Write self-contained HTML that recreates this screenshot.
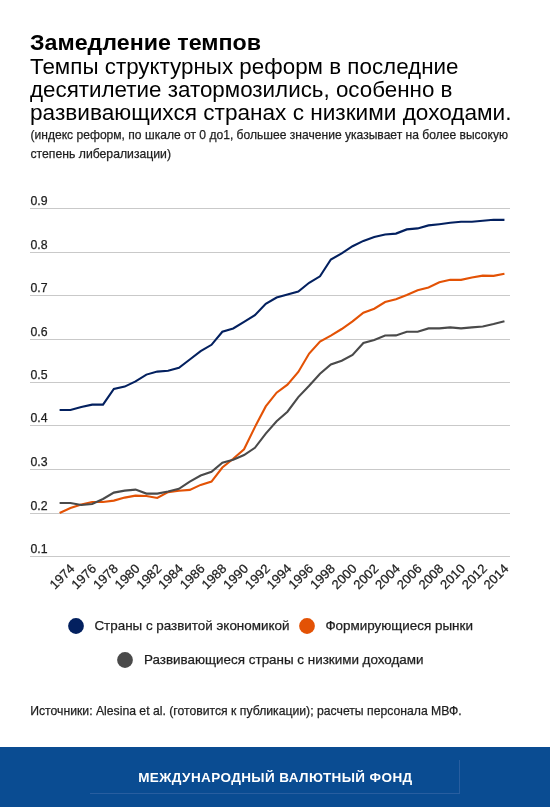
<!DOCTYPE html>
<html><head><meta charset="utf-8"><style>
html,body{margin:0;padding:0;background:#fff;width:550px;height:807px;overflow:hidden;position:relative}
svg text{font-family:"Liberation Sans", sans-serif}
svg{will-change:transform}
.t{fill:#1e1e1e;stroke:#1e1e1e;stroke-width:0.25px}
</style></head><body>
<svg width="550" height="807" viewBox="0 0 550 807" style="position:absolute;left:0;top:0">
<text x="30" y="50.4" font-size="22.5" font-weight="bold" fill="#000" textLength="231" lengthAdjust="spacingAndGlyphs">Замедление темпов</text>
<text x="30" y="74.1" font-size="22" fill="#000" textLength="428.5" lengthAdjust="spacingAndGlyphs">Темпы структурных реформ в последние</text>
<text x="30" y="97.2" font-size="22" fill="#000" textLength="422.5" lengthAdjust="spacingAndGlyphs">десятилетие затормозились, особенно в</text>
<text x="30" y="119.8" font-size="22" fill="#000" textLength="481.5" lengthAdjust="spacingAndGlyphs">развивающихся странах с низкими доходами.</text>
<text x="30.5" y="138.5" font-size="12.4" class="t" textLength="477.5" lengthAdjust="spacingAndGlyphs">(индекс реформ, по шкале от 0 до1, большее значение указывает на более высокую</text>
<text x="30.5" y="158.3" font-size="12.4" class="t" textLength="140.5" lengthAdjust="spacingAndGlyphs">степень либерализации)</text>
<rect x="30" y="208" width="480" height="1" fill="#c9c9c9"/>
<text x="30.5" y="204.9" font-size="12.3" class="t">0.9</text>
<rect x="30" y="252" width="480" height="1" fill="#c9c9c9"/>
<text x="30.5" y="248.9" font-size="12.3" class="t">0.8</text>
<rect x="30" y="295" width="480" height="1" fill="#c9c9c9"/>
<text x="30.5" y="291.9" font-size="12.3" class="t">0.7</text>
<rect x="30" y="339" width="480" height="1" fill="#c9c9c9"/>
<text x="30.5" y="335.9" font-size="12.3" class="t">0.6</text>
<rect x="30" y="382" width="480" height="1" fill="#c9c9c9"/>
<text x="30.5" y="378.9" font-size="12.3" class="t">0.5</text>
<rect x="30" y="425" width="480" height="1" fill="#c9c9c9"/>
<text x="30.5" y="421.9" font-size="12.3" class="t">0.4</text>
<rect x="30" y="469" width="480" height="1" fill="#c9c9c9"/>
<text x="30.5" y="465.9" font-size="12.3" class="t">0.3</text>
<rect x="30" y="513" width="480" height="1" fill="#c9c9c9"/>
<text x="30.5" y="509.9" font-size="12.3" class="t">0.2</text>
<rect x="30" y="556" width="480" height="1" fill="#c9c9c9"/>
<text x="30.5" y="552.9" font-size="12.3" class="t">0.1</text>
<text transform="translate(75.45,569.50) rotate(-45)" text-anchor="end" font-size="13" class="t">1974</text>
<text transform="translate(97.15,569.50) rotate(-45)" text-anchor="end" font-size="13" class="t">1976</text>
<text transform="translate(118.85,569.50) rotate(-45)" text-anchor="end" font-size="13" class="t">1978</text>
<text transform="translate(140.55,569.50) rotate(-45)" text-anchor="end" font-size="13" class="t">1980</text>
<text transform="translate(162.25,569.50) rotate(-45)" text-anchor="end" font-size="13" class="t">1982</text>
<text transform="translate(183.95,569.50) rotate(-45)" text-anchor="end" font-size="13" class="t">1984</text>
<text transform="translate(205.65,569.50) rotate(-45)" text-anchor="end" font-size="13" class="t">1986</text>
<text transform="translate(227.35,569.50) rotate(-45)" text-anchor="end" font-size="13" class="t">1988</text>
<text transform="translate(249.05,569.50) rotate(-45)" text-anchor="end" font-size="13" class="t">1990</text>
<text transform="translate(270.75,569.50) rotate(-45)" text-anchor="end" font-size="13" class="t">1992</text>
<text transform="translate(292.45,569.50) rotate(-45)" text-anchor="end" font-size="13" class="t">1994</text>
<text transform="translate(314.15,569.50) rotate(-45)" text-anchor="end" font-size="13" class="t">1996</text>
<text transform="translate(335.85,569.50) rotate(-45)" text-anchor="end" font-size="13" class="t">1998</text>
<text transform="translate(357.55,569.50) rotate(-45)" text-anchor="end" font-size="13" class="t">2000</text>
<text transform="translate(379.25,569.50) rotate(-45)" text-anchor="end" font-size="13" class="t">2002</text>
<text transform="translate(400.95,569.50) rotate(-45)" text-anchor="end" font-size="13" class="t">2004</text>
<text transform="translate(422.65,569.50) rotate(-45)" text-anchor="end" font-size="13" class="t">2006</text>
<text transform="translate(444.35,569.50) rotate(-45)" text-anchor="end" font-size="13" class="t">2008</text>
<text transform="translate(466.05,569.50) rotate(-45)" text-anchor="end" font-size="13" class="t">2010</text>
<text transform="translate(487.75,569.50) rotate(-45)" text-anchor="end" font-size="13" class="t">2012</text>
<text transform="translate(509.45,569.50) rotate(-45)" text-anchor="end" font-size="13" class="t">2014</text>
<polyline points="59.60,410.00 70.45,410.00 81.30,407.00 92.15,404.60 103.00,404.60 113.85,389.00 124.70,386.60 135.55,381.40 146.40,374.60 157.25,371.60 168.10,370.80 178.95,367.75 189.80,359.50 200.65,351.20 211.50,344.80 222.35,331.75 233.20,328.50 244.05,321.90 254.90,315.20 265.75,303.80 276.60,297.50 287.45,294.40 298.30,291.50 309.15,282.80 320.00,276.30 330.85,259.50 341.70,253.40 352.55,246.20 363.40,240.90 374.25,237.00 385.10,234.50 395.95,233.60 406.80,229.40 417.65,228.40 428.50,225.40 439.35,224.20 450.20,222.80 461.05,221.80 471.90,221.80 482.75,220.80 493.60,219.70 504.45,219.90" fill="none" stroke="#03205f" stroke-width="2.1" stroke-linejoin="miter"/>
<polyline points="59.60,513.00 70.45,508.00 81.30,504.40 92.15,502.00 103.00,502.00 113.85,500.60 124.70,497.60 135.55,495.60 146.40,496.00 157.25,498.00 168.10,492.10 178.95,490.80 189.80,489.90 200.65,484.90 211.50,481.60 222.35,467.50 233.20,458.70 244.05,449.30 254.90,427.10 265.75,406.40 276.60,392.70 287.45,384.70 298.30,372.00 309.15,353.50 320.00,341.50 330.85,335.60 341.70,329.00 352.55,321.40 363.40,312.70 374.25,308.70 385.10,302.00 395.95,299.30 406.80,295.00 417.65,290.30 428.50,287.50 439.35,282.30 450.20,279.70 461.05,279.90 471.90,277.50 482.75,275.60 493.60,275.90 504.45,273.70" fill="none" stroke="#e35205" stroke-width="2.1" stroke-linejoin="miter"/>
<polyline points="59.60,503.00 70.45,503.00 81.30,505.00 92.15,504.00 103.00,499.00 113.85,492.60 124.70,490.60 135.55,489.60 146.40,493.60 157.25,493.60 168.10,491.50 178.95,488.80 189.80,481.60 200.65,475.50 211.50,471.80 222.35,462.70 233.20,459.80 244.05,455.00 254.90,447.80 265.75,433.60 276.60,421.30 287.45,411.70 298.30,397.10 309.15,385.80 320.00,373.80 330.85,364.40 341.70,360.70 352.55,355.00 363.40,343.00 374.25,339.90 385.10,335.50 395.95,335.40 406.80,331.70 417.65,331.70 428.50,328.40 439.35,328.40 450.20,327.40 461.05,328.40 471.90,327.40 482.75,326.50 493.60,324.10 504.45,321.30" fill="none" stroke="#4a4a4a" stroke-width="2.1" stroke-linejoin="miter"/>
<circle cx="76" cy="626" r="7.9" fill="#03205f"/>
<text x="94.4" y="630.4" font-size="13" class="t" textLength="195" lengthAdjust="spacingAndGlyphs">Страны с развитой экономикой</text>
<circle cx="307" cy="626" r="7.9" fill="#e35205"/>
<text x="325.4" y="630.4" font-size="13" class="t" textLength="147.5" lengthAdjust="spacingAndGlyphs">Формирующиеся рынки</text>
<circle cx="125" cy="660" r="7.9" fill="#4a4a4a"/>
<text x="144" y="664" font-size="13" class="t" textLength="279.5" lengthAdjust="spacingAndGlyphs">Развивающиеся страны с низкими доходами</text>
<text x="30.2" y="715.3" font-size="12.4" class="t" textLength="431.5" lengthAdjust="spacingAndGlyphs">Источники: Alesina et al. (готовится к публикации); расчеты персонала МВФ.</text>
<rect x="0" y="747" width="550" height="60" fill="#0a4c92"/>
<rect x="90" y="793" width="370" height="1" fill="#285ea0"/>
<rect x="459" y="760" width="1" height="34" fill="#285ea0"/>
<text x="138.2" y="782" font-size="13.5" font-weight="bold" fill="#fff" textLength="274" lengthAdjust="spacing">МЕЖДУНАРОДНЫЙ ВАЛЮТНЫЙ ФОНД</text>
</svg>
</body></html>
